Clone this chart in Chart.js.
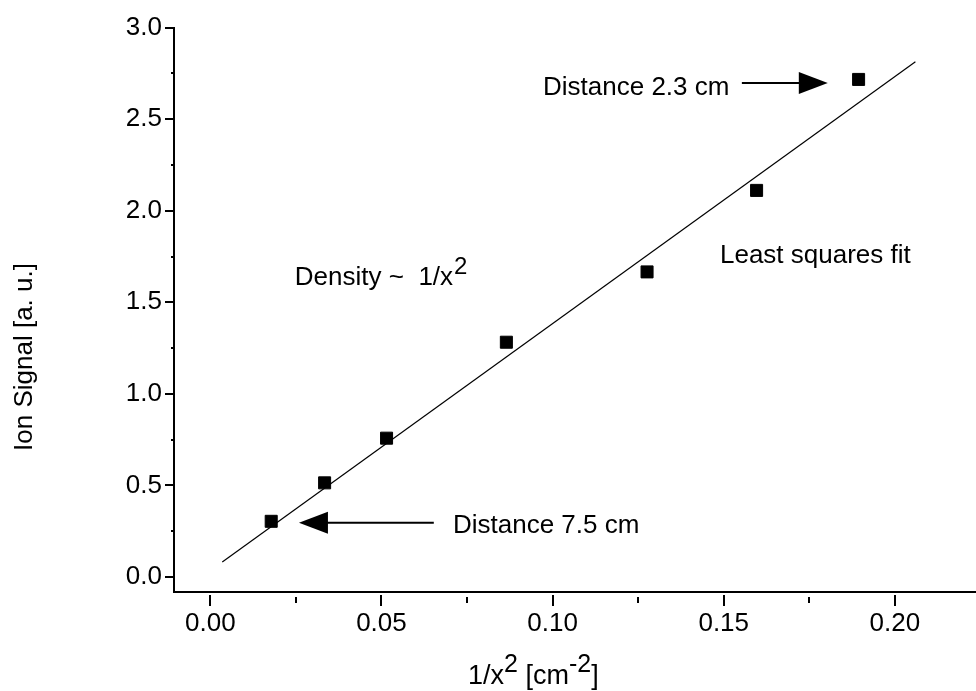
<!DOCTYPE html>
<html><head><meta charset="utf-8">
<script src="https://cdn.jsdelivr.net/npm/chart.js@4/dist/chart.umd.min.js"></script>
<style>html,body{margin:0;padding:0;background:#fff;overflow:hidden}</style>
</head><body>
<canvas id="c" width="976" height="691"></canvas>
<script>
// ---- data ----
const xValues = [0.0178, 0.0334, 0.0515, 0.0865, 0.1276, 0.1596, 0.1894];   // 1/x^2 [cm^-2]
const yValues = [0.304, 0.514, 0.758, 1.282, 1.666, 2.111, 2.717];          // Ion signal [a.u.]
const fitX = [0.0035, 0.2060];
const fitY = [0.082, 2.814];
const xTickValues = [0.00, 0.05, 0.10, 0.15, 0.20];
const xMinorTickValues = [0.025, 0.075, 0.125, 0.175];
const yTickValues = [0.0, 0.5, 1.0, 1.5, 2.0, 2.5, 3.0];
const yMinorTickValues = [0.25, 0.75, 1.25, 1.75, 2.25, 2.75];
const noteTexts = ["Distance 2.3 cm", "Distance 7.5 cm", "Least squares fit", "Density ~  1/x"];

const FONT = "'Liberation Sans', Arial, Helvetica, sans-serif";
const FS = 26;

const deco = {
  id: 'deco',
  afterDraw(chart) {
    const ctx = chart.ctx, xs = chart.scales.x, ys = chart.scales.y, ca = chart.chartArea;
    const X = v => xs.getPixelForValue(v), Y = v => ys.getPixelForValue(v);
    ctx.save();
    ctx.strokeStyle = '#000'; ctx.fillStyle = '#000';
    const seg = (x1, y1, x2, y2, w) => { ctx.lineWidth = w; ctx.beginPath(); ctx.moveTo(x1, y1); ctx.lineTo(x2, y2); ctx.stroke(); };
    // x ticks (offset below axis)
    xTickValues.forEach(v => { const p = Math.round(X(v)); seg(p, ca.bottom + 3, p, ca.bottom + 14, 2); });
    xMinorTickValues.forEach(v => { const p = Math.round(X(v)); seg(p, ca.bottom + 5, p, ca.bottom + 11, 2); });
    // y ticks
    yTickValues.forEach(v => { const p = Math.round(Y(v)); seg(ca.left - 9, p, ca.left, p, 2); });
    yMinorTickValues.forEach(v => { const p = Math.round(Y(v)); seg(ca.left - 3, p, ca.left, p, 2); });

    ctx.font = FS + 'px ' + FONT;
    ctx.textBaseline = 'alphabetic'; ctx.textAlign = 'left';
    // annotations
    const arrow = (x1, x2, y) => {
      const tip = X(x2), tail = X(x1), py = Y(y);
      const dir = Math.sign(tip - tail);
      seg(tail, py, tip - dir * 28, py, 2);
      ctx.beginPath(); ctx.moveTo(tip, py); ctx.lineTo(tip - dir * 29, py - 11); ctx.lineTo(tip - dir * 29, py + 11); ctx.closePath(); ctx.fill();
    };
    ctx.fillText(noteTexts[0], X(0.0972), Y(2.631));
    arrow(0.1553, 0.1804, 2.697);
    ctx.fillText(noteTexts[1], X(0.0709), Y(0.2417));
    arrow(0.0653, 0.0259, 0.296);
    ctx.fillText(noteTexts[2], X(0.1489), Y(1.715));
    const dx = X(0.0247), dy = Y(1.595);
    ctx.fillText(noteTexts[3], dx, dy);
    const w3 = ctx.measureText(noteTexts[3]).width;
    ctx.font = '24px ' + FONT;
    ctx.fillText('2', dx + w3 + 1, dy - 11);

    // y axis title
    ctx.font = FS + 'px ' + FONT;
    ctx.save();
    ctx.translate(32, 357); ctx.rotate(-Math.PI / 2);
    ctx.textAlign = 'center';
    ctx.fillText('Ion Signal [a. u.]', 0, 0);
    ctx.restore();

    // x axis title with superscripts
    let tx = 468; const ty = 684;
    const part = (s, size, dyo) => { ctx.font = size + 'px ' + FONT; ctx.fillText(s, tx, ty - dyo); tx += ctx.measureText(s).width; };
    part('1/x', 27, 0);
    part('2', 25, 12);
    part(' [cm', 27, 0);
    part('-2', 25, 12);
    part(']', 27, 0);
    ctx.restore();
  }
};

new Chart(document.getElementById('c'), {
  type: 'scatter',
  data: {
    datasets: [
      {
        label: 'data',
        data: xValues.map((x, i) => ({ x, y: yValues[i] })),
        pointStyle: 'rect', pointRadius: 8.5, pointHoverRadius: 8.5,
        backgroundColor: '#000', borderColor: '#000', borderWidth: 1, showLine: false
      },
      {
        label: 'fit',
        data: fitX.map((x, i) => ({ x, y: fitY[i] })),
        showLine: true, pointRadius: 0, borderColor: '#000', borderWidth: 1.2, fill: false
      }
    ]
  },
  options: {
    responsive: false, animation: false, devicePixelRatio: 1,
    layout: { autoPadding: false, padding: { left: 0, right: 0, top: 26, bottom: 0 } },
    plugins: { legend: { display: false }, tooltip: { enabled: false } },
    scales: {
      x: {
        type: 'linear', min: -0.0106, max: 0.2237,
        afterBuildTicks: s => { s.ticks = xTickValues.map(v => ({ value: v })); },
        afterFit: s => { s.height = 99; s.paddingLeft = 0; s.paddingRight = 0; },
        grid: { display: false, drawTicks: false },
        border: { display: true, color: '#000', width: 2 },
        ticks: { color: '#000', font: { family: FONT, size: FS }, padding: 16, maxRotation: 0, autoSkip: false,
                 callback: v => Number(v).toFixed(2) }
      },
      y: {
        type: 'linear', min: -0.082, max: 3.0,
        afterBuildTicks: s => { s.ticks = yTickValues.map(v => ({ value: v })); },
        afterFit: s => { s.width = 174; },
        grid: { display: false, drawTicks: false },
        border: { display: true, color: '#000', width: 2 },
        ticks: { color: '#000', font: { family: FONT, size: FS }, padding: 12, autoSkip: false,
                 callback: v => Number(v).toFixed(1) }
      }
    }
  },
  plugins: [deco]
});
</script>
</body></html>
